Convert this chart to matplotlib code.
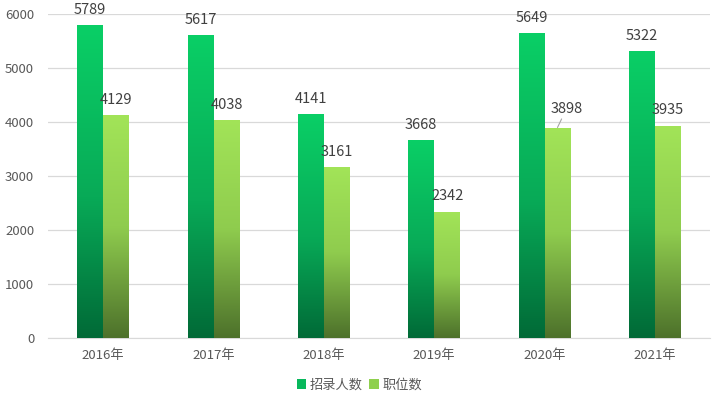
import matplotlib
matplotlib.use("Agg")
import matplotlib.pyplot as plt
import numpy as np
from matplotlib.colors import LinearSegmentedColormap
from matplotlib.patches import Patch

plt.rcParams['font.family'] = ['Noto Sans CJK SC', 'DejaVu Sans']

categories = ['2016年', '2017年', '2018年', '2019年', '2020年', '2021年']
recruit = [5789, 5617, 4141, 3668, 5649, 5322]
positions = [4129, 4038, 3161, 2342, 3898, 3935]
series_names = ['招录人数', '职位数']

cmap1 = LinearSegmentedColormap.from_list('g1', [(0, '#016A37'), (0.45, '#08AA57'), (1, '#0ACF66')])
cmap2 = LinearSegmentedColormap.from_list('g2', [(0, '#4D712B'), (0.5, '#8FCC4E'), (1, '#A2E458')])

fig = plt.figure(figsize=(7.19, 4.0), dpi=100)
ax = fig.add_axes([0.0668, 0.155, 0.9207, 0.81])

x = np.arange(len(categories))
w = 0.235

def grad_bars(xs, vals, cmap):
    bars = ax.bar(xs, vals, width=w, color='none', edgecolor='none', zorder=3)
    grad = np.linspace(1, 0, 256).reshape(-1, 1)
    for b in bars:
        x0, y0 = b.get_x(), b.get_y()
        bw, bh = b.get_width(), b.get_height()
        im = ax.imshow(grad, cmap=cmap, aspect='auto', extent=[x0, x0 + bw, y0, y0 + bh],
                       zorder=3, interpolation='bicubic')
        im.set_clip_path(b)
    return bars

grad_bars(x - w / 2, recruit, cmap1)
grad_bars(x + w / 2, positions, cmap2)

for i, v in enumerate(recruit):
    ax.text(x[i] - w / 2, v + 150, str(v), ha='center', va='bottom', fontsize=10.5, color='#404040')
for i, v in enumerate(positions):
    if i == 4:
        ax.annotate(str(v), xy=(x[i] + w / 2, v), xytext=(x[i] + w / 2 + 0.08, v + 210),
                    ha='center', va='bottom', fontsize=10.5, color='#404040',
                    arrowprops=dict(arrowstyle='-', color='#A6A6A6', lw=0.8,
                                    shrinkA=0, shrinkB=0))
    else:
        ax.text(x[i] + w / 2, v + 150, str(v), ha='center', va='bottom', fontsize=10.5, color='#404040')

ax.set_xlim(-0.5, len(categories) - 0.5)
ax.set_ylim(0, 6000)
ax.set_yticks(np.arange(0, 6001, 1000))
ax.set_xticks(x)
ax.set_xticklabels(categories)
ax.tick_params(axis='both', length=0, labelsize=9.5, colors='#595959', pad=8)
ax.tick_params(axis='y', pad=10)
ax.grid(axis='y', color='#D9D9D9', lw=0.9, zorder=0)
ax.set_axisbelow(True)
for s in ['top', 'right', 'left']:
    ax.spines[s].set_visible(False)
ax.spines['bottom'].set_color('#D9D9D9')

handles = [Patch(facecolor='#08B85C', edgecolor='none'), Patch(facecolor='#8FD04E', edgecolor='none')]
fig.legend(handles, series_names, loc='center', bbox_to_anchor=(0.5, 0.037), ncol=2, frameon=False,
           fontsize=9.5, handlelength=0.7, handleheight=0.7, handletextpad=0.3, columnspacing=0.5,
           labelcolor='#595959')

fig.savefig('out.png', dpi=100)
